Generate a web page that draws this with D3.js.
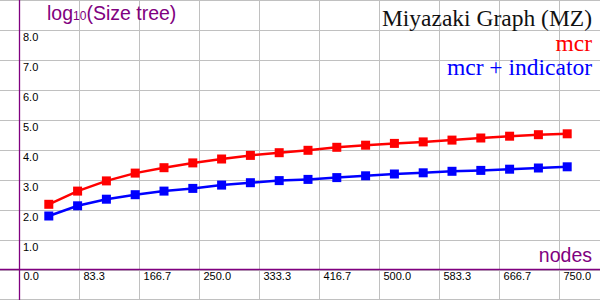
<!DOCTYPE html>
<html>
<head>
<meta charset="utf-8">
<script src="https://cdn.jsdelivr.net/npm/d3@7"></script>
<style>
  html, body { margin: 0; padding: 0; background: #fff; }
  svg { display: block; }
</style>
</head>
<body>
<div id="chart"></div>
<script>
// Data
let nodes = [40, 80, 120, 160, 200, 240, 280, 320, 360, 400, 440, 480, 520, 560, 600, 640, 680, 720, 760];
let mcr = [2.19, 2.63, 2.97, 3.23, 3.41, 3.57, 3.70, 3.82, 3.91, 3.99, 4.09, 4.16, 4.22, 4.27, 4.33, 4.40, 4.46, 4.51, 4.54];
let mcrIndicator = [1.80, 2.14, 2.36, 2.51, 2.63, 2.72, 2.83, 2.91, 2.98, 3.02, 3.08, 3.14, 3.20, 3.24, 3.29, 3.32, 3.36, 3.40, 3.44];
let xTicks = [0, 83.3, 166.7, 250.0, 333.3, 416.7, 500.0, 583.3, 666.7, 750.0];
let yTicks = [1, 2, 3, 4, 5, 6, 7, 8];

let svgWidth = 600, svgHeight = 300;
let purple = '#800080', gridColor = '#c0c0c0';
let tickFont = '11px "Liberation Sans", Arial, sans-serif';

let svg = d3.select('#chart')
            .append('svg')
            .attr('width', svgWidth)
            .attr('height', svgHeight);

// Scales
let xScale = d3.scaleLinear().domain([0, 750]).range([20, 560]);
let yScale = d3.scaleLinear().domain([0, 8]).range([270, 30]);

// Grid (runs past the plotted range to the edges)
let xStep = 750 / 9;
let gridX = d3.range(-1, 11).map(i => i * xStep);
let gridY = d3.range(-1, 10);

svg.append('g').selectAll('line')
    .data(gridX)
    .enter().append('line')
    .attr('x1', d => Math.round(xScale(d)) - 0.5)
    .attr('x2', d => Math.round(xScale(d)) - 0.5)
    .attr('y1', 0).attr('y2', svgHeight)
    .attr('stroke', gridColor);

svg.append('g').selectAll('line')
    .data(gridY)
    .enter().append('line')
    .attr('y1', d => Math.min(yScale(d), 299) + 0.5)
    .attr('y2', d => Math.min(yScale(d), 299) + 0.5)
    .attr('x1', 0).attr('x2', svgWidth)
    .attr('stroke', gridColor);

// Axes
let xAxis = d3.axisBottom(xScale)
    .tickValues(xTicks)
    .tickFormat(d3.format('.1f'))
    .tickSize(0);
let yAxis = d3.axisRight(yScale)
    .tickValues(yTicks)
    .tickFormat(d3.format('.1f'))
    .tickSize(0);

let xg = svg.append('g')
    .attr('transform', `translate(0, ${yScale(0)})`)
    .call(xAxis);
xg.select('.domain').remove();
xg.selectAll('text')
    .attr('x', 3).attr('y', 2).attr('dy', '0.71em')
    .attr('text-anchor', 'start')
    .attr('fill', '#000')
    .style('font', tickFont);

let yg = svg.append('g')
    .attr('transform', `translate(${xScale(0)}, 0)`)
    .call(yAxis);
yg.select('.domain').remove();
yg.selectAll('text')
    .attr('x', 3).attr('y', 2.5).attr('dy', '0.71em')
    .attr('fill', '#000')
    .style('font', tickFont);

svg.append('line')
    .attr('x1', 0).attr('x2', svgWidth)
    .attr('y1', yScale(0) - 0.5).attr('y2', yScale(0) - 0.5)
    .attr('stroke', purple).attr('stroke-width', 1.3);
svg.append('line')
    .attr('x1', xScale(0) - 0.5).attr('x2', xScale(0) - 0.5)
    .attr('y1', 0).attr('y2', svgHeight)
    .attr('stroke', purple).attr('stroke-width', 1.3);

// Series
let series = [
    { values: mcr, color: '#ff0000' },
    { values: mcrIndicator, color: '#0000ff' }
];
let line = d3.line()
    .x((d, i) => xScale(nodes[i]))
    .y(d => yScale(d));
let size = 9;

series.forEach(s => {
    svg.append('path')
        .datum(s.values)
        .attr('d', line)
        .attr('fill', 'none')
        .attr('stroke', s.color)
        .attr('stroke-width', 2.5);
    svg.append('g').selectAll('rect')
        .data(s.values)
        .enter().append('rect')
        .attr('x', (d, i) => xScale(nodes[i]) - size / 2)
        .attr('y', d => yScale(d) - size / 2)
        .attr('width', size).attr('height', size)
        .attr('fill', s.color);
});

// Labels
let ylab = svg.append('text')
    .attr('x', 47).attr('y', 20)
    .attr('fill', purple)
    .style('font', '19.5px "Liberation Sans", Arial, sans-serif');
ylab.append('tspan').text('log');
ylab.append('tspan').attr('font-size', '12px').text('10');
ylab.append('tspan').text('(Size tree)');

svg.append('text')
    .attr('x', 592).attr('y', 262)
    .attr('text-anchor', 'end')
    .attr('fill', purple)
    .style('font', '19.5px "Liberation Sans", Arial, sans-serif')
    .text('nodes');

let serif = '23.5px "Liberation Serif", "Times New Roman", serif';
svg.append('text')
    .attr('x', 592).attr('y', 26)
    .attr('text-anchor', 'end')
    .attr('fill', '#111')
    .style('font', serif)
    .text('Miyazaki Graph (MZ)');
svg.append('text')
    .attr('x', 592).attr('y', 51)
    .attr('text-anchor', 'end')
    .attr('fill', '#ff0000')
    .style('font', serif)
    .text('mcr');
svg.append('text')
    .attr('x', 592).attr('y', 75)
    .attr('text-anchor', 'end')
    .attr('fill', '#0000ff')
    .style('font', serif)
    .text('mcr + indicator');
</script>
</body>
</html>
